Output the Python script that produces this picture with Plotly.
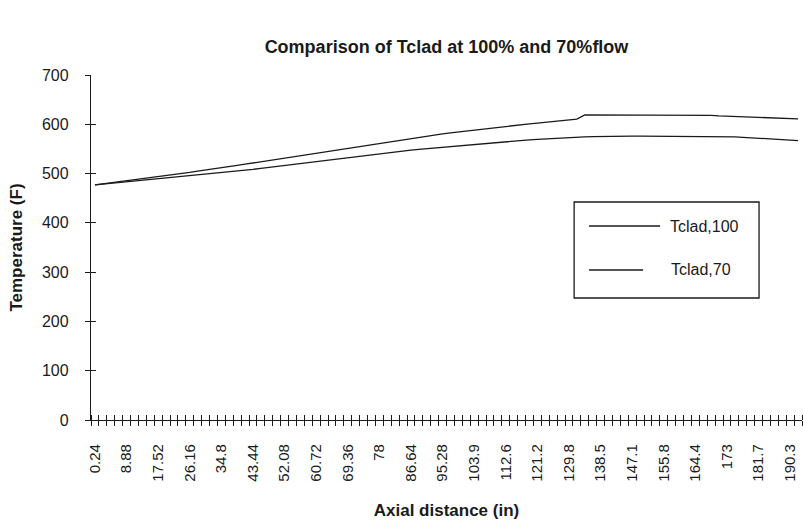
import plotly.graph_objects as go

# Axial positions (in) - categories
positions = ["0.24", "2.4", "4.56", "6.72", "8.88", "11.04", "13.2", "15.36", "17.52", "19.68",
             "21.84", "24", "26.16", "28.32", "30.48", "32.64", "34.8", "36.96", "39.12", "41.28",
             "43.44", "45.6", "47.76", "49.92", "52.08", "54.24", "56.4", "58.56", "60.72", "62.88",
             "65.04", "67.2", "69.36", "71.52", "73.68", "75.84", "78", "80.16", "82.32", "84.48",
             "86.64", "88.8", "90.96", "93.12", "95.28", "97.44", "99.6", "101.8", "103.9", "106.1",
             "108.2", "110.4", "112.6", "114.7", "116.9", "119", "121.2", "123.4", "125.5", "127.7",
             "129.8", "132", "134.2", "136.3", "138.5", "140.6", "142.8", "145", "147.1", "149.3",
             "151.4", "153.6", "155.8", "157.9", "160.1", "162.2", "164.4", "166.6", "168.7", "170.9",
             "173", "175.2", "177.4", "179.5", "181.7", "183.8", "186", "188.2", "190.3", "192.5"]

tclad_100 = [477, 479, 481, 483, 485, 487, 489, 491, 493, 495.5,
             498, 500, 502.5, 505, 507, 509.5, 512, 514, 516.5, 519,
             521.5, 524, 526.5, 529, 531.5, 534, 536.5, 539, 541.5, 544,
             546.5, 549, 551.5, 554, 556.5, 559, 561.5, 564, 566.5, 569,
             571.5, 574, 576.5, 578.5, 580.5, 582.5, 584.5, 586.5, 588.5, 590.5,
             592.5, 594.5, 596.5, 598, 599.5, 601, 602.5, 604, 605.5, 607,
             608.5, 610.5, 619, 619, 619, 619, 619, 619, 619, 619,
             619, 619, 619, 619, 619, 619, 619, 619, 618, 617,
             616.5, 616, 615.5, 615, 614.5, 614, 613, 612.5, 612, 611]

tclad_70 = [477, 478.5, 480, 481.5, 483, 484.5, 486, 487.5, 489, 490.5,
            492, 493.5, 495, 496.5, 498.5, 500, 501.5, 503, 505, 506.5,
            508.5, 510.5, 512.5, 514.5, 516.5, 518.5, 520.5, 522.5, 524.5, 526.5,
            528.5, 530.5, 532.5, 534.5, 536.5, 538.5, 540.5, 542.5, 544.5, 546,
            547.5, 549, 550.5, 552, 553.5, 555, 556.5, 558, 559.5, 561,
            562.5, 564, 565, 566.5, 567.5, 568.5, 569.5, 570.5, 571.5, 572.5,
            573.5, 574, 574.5, 575, 575.5, 575.5, 576, 576, 576, 576,
            576, 576, 576, 576, 576, 576, 576, 576, 575.5, 575.5,
            575, 574.5, 573.5, 572.5, 571.5, 570.5, 569.5, 568.5, 567.5, 567]

series_names = ["Tclad,100", "Tclad,70"]
y_ticks = [0, 100, 200, 300, 400, 500, 600, 700]

idx = list(range(len(positions)))
FONT = "Liberation Sans, Arial, sans-serif"
INK = "#1a1a1a"

fig = go.Figure()
fig.add_trace(go.Scatter(x=idx, y=tclad_100, mode="lines", name=series_names[0],
                         line=dict(color=INK, width=1.3), showlegend=False))
fig.add_trace(go.Scatter(x=idx, y=tclad_70, mode="lines", name=series_names[1],
                         line=dict(color=INK, width=1.3), showlegend=False))
# helper trace for overlay axes (crossing tick marks)
fig.add_trace(go.Scatter(x=[None], y=[None], xaxis="x2", yaxis="y2", showlegend=False,
                         hoverinfo="skip"))

xr = [-0.5, len(positions) - 0.5]

fig.update_layout(
    width=803, height=522,
    margin=dict(l=91, r=1, t=75, b=102),
    paper_bgcolor="white", plot_bgcolor="white",
    font=dict(family=FONT, color=INK),
    title=dict(text="<b>Comparison of Tclad at 100% and 70%flow</b>",
               x=0.5, xref="paper", xanchor="center", y=1 - 47 / 522, yanchor="middle",
               font=dict(size=18, family=FONT, color=INK), automargin=False),
    xaxis=dict(range=xr, tickmode="array", tickvals=idx[::4], ticktext=positions[::4],
               ticks="", tickangle=-90, showline=True, linecolor=INK, linewidth=1.3,
               showgrid=False, zeroline=False, ticklabelstandoff=17, automargin=False,
               tickfont=dict(size=15, family=FONT, color=INK),
               minor=dict(tickmode="linear", tick0=-0.5, dtick=1, ticks="outside",
                          ticklen=5, tickwidth=1, tickcolor=INK, showgrid=False),
               title=dict(text="<b>Axial distance (in)</b>", standoff=23,
                          font=dict(size=17, family=FONT, color=INK))),
    xaxis2=dict(range=xr, overlaying="x", anchor="y", side="bottom", showticklabels=False,
                ticks="", showline=False, showgrid=False, zeroline=False, automargin=False,
                minor=dict(tickmode="linear", tick0=-0.5, dtick=1, ticks="inside",
                           ticklen=5, tickwidth=1, tickcolor=INK, showgrid=False)),
    yaxis=dict(range=[0, 700], tickmode="array", tickvals=y_ticks, ticks="outside",
               ticklen=5, tickwidth=1.3, tickcolor=INK, showline=True, linecolor=INK,
               linewidth=1.3, showgrid=False, zeroline=False, ticklabelstandoff=13,
               automargin=False,
               tickfont=dict(size=16, family=FONT, color=INK),
               title=dict(text="<b>Temperature (F)</b>", standoff=14,
                          font=dict(size=17, family=FONT, color=INK))),
    yaxis2=dict(range=[0, 700], overlaying="y", anchor="x", side="left", tickmode="array",
                tickvals=y_ticks, ticks="inside", ticklen=5, tickwidth=1.3, tickcolor=INK,
                showticklabels=False, showline=False, showgrid=False, zeroline=False,
                automargin=False),
)

# Legend box drawn manually (paper coordinates)
fig.add_shape(type="rect", xref="paper", yref="paper", x0=0.6795, x1=0.9396, y0=0.3536, y1=0.6319,
              line=dict(color=INK, width=1.3), fillcolor="white")
fig.add_shape(type="line", xref="paper", yref="paper", x0=0.7005, x1=0.8004, y0=0.5623, y1=0.5623,
              line=dict(color=INK, width=1.3))
fig.add_shape(type="line", xref="paper", yref="paper", x0=0.7005, x1=0.7765, y0=0.4348, y1=0.4348,
              line=dict(color=INK, width=1.3))
fig.add_annotation(xref="paper", yref="paper", x=0.8116, y=0.5623, text=series_names[0],
                   showarrow=False, xanchor="left", yanchor="middle",
                   font=dict(size=16, family=FONT, color=INK))
fig.add_annotation(xref="paper", yref="paper", x=0.813, y=0.4348, text=series_names[1],
                   showarrow=False, xanchor="left", yanchor="middle",
                   font=dict(size=16, family=FONT, color=INK))

fig.write_html("out.html", config={"displayModeBar": False},
               post_script="document.body.style.margin='0px';")
